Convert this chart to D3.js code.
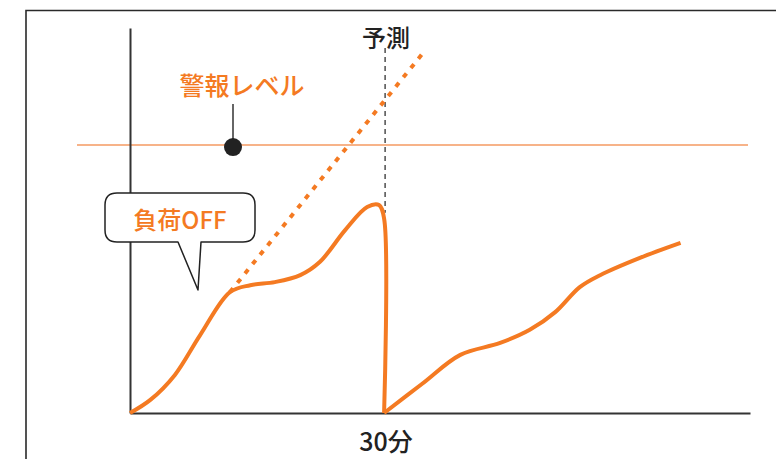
<!DOCTYPE html>
<html>
<head>
<meta charset="utf-8">
<script src="https://cdn.jsdelivr.net/npm/d3@7"></script>
<style>
  body { margin: 0; background: #fff; }
  svg { display: block; }
</style>
</head>
<body>
<div id="vis"></div>
<script>
// set constants
const FRAME_WIDTH = 776;
const FRAME_HEIGHT = 459;
const MARGINS = {left: 130, right: 26, top: 28, bottom: 46};
const VIS_WIDTH = FRAME_WIDTH - MARGINS.left - MARGINS.right;
const VIS_HEIGHT = FRAME_HEIGHT - MARGINS.top - MARGINS.bottom;

const ORANGE = "#f47a22";
const FONT = "'Noto Sans CJK JP', 'Noto Sans', sans-serif";

// data (minutes, load %)
const loadTimes = [0, 2.4, 5.3, 8.3, 11.8, 14.2, 17.1, 20.1, 22.4, 25.4, 28.0, 29.4, 30, 30];
const loadValues = [0, 3.4, 9.9, 20.3, 31.4, 33.2, 34.0, 35.8, 39.2, 47.5, 53.5, 54.0, 50.5, 0];
const afterTimes = [30, 34.5, 39, 43.7, 47.2, 50.2, 53.1, 55.5, 60.2, 65];
const afterValues = [0, 7.6, 15.1, 18.2, 21.6, 26.2, 32.7, 35.8, 40.3, 44.2];
const forecastTimes = [11.8, 34.7];
const forecastValues = [31.4, 93.8];
const WARNING_LEVEL = 69.6;
const CUT_TIME = 30;
const X_MAX = 73.2;
const Y_MAX = 100;

const FRAME = d3.select("#vis")
  .append("svg")
    .attr("width", FRAME_WIDTH)
    .attr("height", FRAME_HEIGHT);

const X_SCALE = d3.scaleLinear().domain([0, X_MAX]).range([0, VIS_WIDTH]);
const Y_SCALE = d3.scaleLinear().domain([0, Y_MAX]).range([VIS_HEIGHT, 0]);

// outer frame (top + left border)
FRAME.append("path")
  .attr("d", "M26,459 L26,10.5 L776,10.5")
  .attr("fill", "none")
  .attr("stroke", "#2a2a2a")
  .attr("stroke-width", 1.6);

const G = FRAME.append("g")
  .attr("transform", "translate(" + MARGINS.left + "," + MARGINS.top + ")");

// warning line
G.append("line")
  .attr("x1", -53)
  .attr("x2", VIS_WIDTH - 2)
  .attr("y1", Y_SCALE(WARNING_LEVEL))
  .attr("y2", Y_SCALE(WARNING_LEVEL))
  .attr("stroke", "#f59a62")
  .attr("stroke-width", 1.6);

// axes (no ticks)
G.append("g")
  .attr("transform", "translate(0," + VIS_HEIGHT + ")")
  .call(d3.axisBottom(X_SCALE).tickValues([]).tickSizeOuter(0))
  .select(".domain").attr("stroke", "#333").attr("stroke-width", 2);
G.append("g")
  .call(d3.axisLeft(Y_SCALE).tickValues([]).tickSizeOuter(0))
  .select(".domain").attr("stroke", "#333").attr("stroke-width", 2);

// forecast marker (dashed vertical)
G.append("line")
  .attr("x1", X_SCALE(CUT_TIME) + 1)
  .attr("x2", X_SCALE(CUT_TIME) + 1)
  .attr("y1", 20)
  .attr("y2", Y_SCALE(52))
  .attr("stroke", "#333")
  .attr("stroke-width", 1.3)
  .attr("stroke-dasharray", "5,4");

// forecast dotted line
G.append("line")
  .attr("x1", X_SCALE(forecastTimes[0]))
  .attr("y1", Y_SCALE(forecastValues[0]))
  .attr("x2", X_SCALE(forecastTimes[1]))
  .attr("y2", Y_SCALE(forecastValues[1]))
  .attr("stroke", ORANGE)
  .attr("stroke-width", 4)
  .attr("stroke-dasharray", "5,7");

// load curve
const line = d3.line()
  .x((d) => X_SCALE(d[0]))
  .y((d) => Y_SCALE(d[1]));

G.append("path")
  .datum(d3.zip(loadTimes, loadValues))
  .attr("d", line.curve(d3.curveCatmullRom.alpha(0.5)))
  .attr("fill", "none")
  .attr("stroke", ORANGE)
  .attr("stroke-width", 4)
  .attr("stroke-linejoin", "round");

G.append("path")
  .datum(d3.zip(afterTimes, afterValues))
  .attr("d", line.curve(d3.curveCatmullRom.alpha(0.5)))
  .attr("fill", "none")
  .attr("stroke", ORANGE)
  .attr("stroke-width", 4)
  .attr("stroke-linejoin", "round");

// warning label + pin
const pinX = 233 - MARGINS.left;
G.append("line")
  .attr("x1", pinX).attr("x2", pinX)
  .attr("y1", 104 - MARGINS.top).attr("y2", Y_SCALE(WARNING_LEVEL))
  .attr("stroke", "#333")
  .attr("stroke-width", 1.5);
G.append("circle")
  .attr("cx", pinX)
  .attr("cy", Y_SCALE(WARNING_LEVEL) + 2)
  .attr("r", 9)
  .attr("fill", "#222");

FRAME.append("text")
  .attr("x", 242)
  .attr("y", 95)
  .attr("text-anchor", "middle")
  .style("font-family", FONT)
  .style("font-size", "25px")
  .style("font-weight", 500)
  .attr("fill", ORANGE)
  .text("警報レベル");

// 予測 label
FRAME.append("text")
  .attr("x", 386)
  .attr("y", 47)
  .attr("text-anchor", "middle")
  .style("font-family", FONT)
  .style("font-size", "24px")
  .style("font-weight", 500)
  .attr("fill", "#222")
  .text("予測");

// 30分 label
FRAME.append("text")
  .attr("x", 386)
  .attr("y", 451)
  .attr("text-anchor", "middle")
  .style("font-family", FONT)
  .style("font-size", "25px")
  .style("font-weight", 500)
  .attr("fill", "#222")
  .text("30分");

// callout bubble
FRAME.append("path")
  .attr("d", "M117,193 L243,193 Q255,193 255,205 L255,230 Q255,242 243,242 L201,242 L198,290 L178,242 L117,242 Q105,242 105,230 L105,205 Q105,193 117,193 Z")
  .attr("fill", "#fff")
  .attr("stroke", "#222")
  .attr("stroke-width", 1.5)
  .attr("stroke-linejoin", "round");

FRAME.append("text")
  .attr("x", 180)
  .attr("y", 229)
  .attr("text-anchor", "middle")
  .style("font-family", FONT)
  .style("font-size", "24px")
  .style("font-weight", 500)
  .attr("fill", ORANGE)
  .text("負荷OFF");
</script>
</body>
</html>
